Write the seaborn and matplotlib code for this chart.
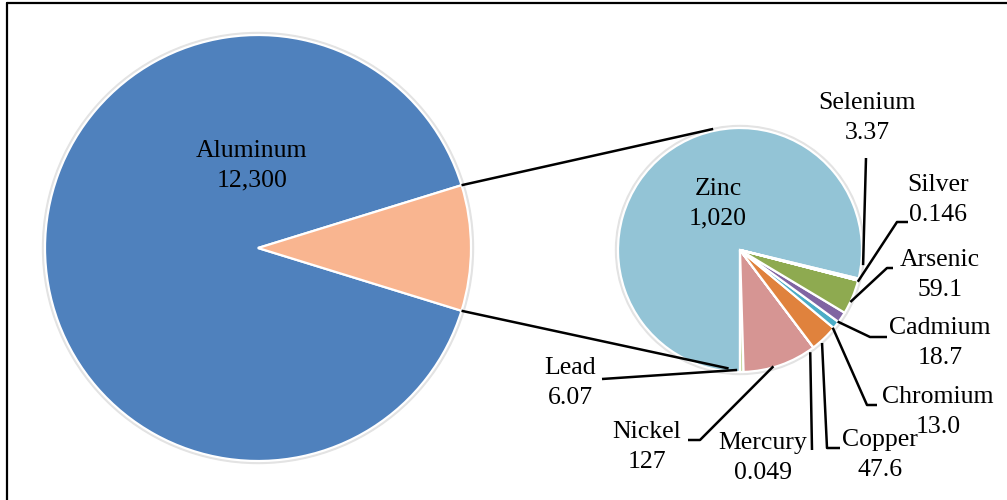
import numpy as np
import matplotlib
matplotlib.use("Agg")
import matplotlib.pyplot as plt
import seaborn as sns

# ---------------- data ----------------
main_labels = ["Aluminum", "Other"]
main_display = ["12,300", ""]
main_colors = ["#4F81BD", "#F9B590"]

sub_labels = ["Zinc", "Lead", "Nickel", "Mercury", "Copper",
              "Chromium", "Cadmium", "Arsenic", "Silver", "Selenium"]
sub_values = [1020, 6.07, 127, 0.049, 47.6, 13.0, 18.7, 59.1, 0.146, 3.37]
sub_display = ["1,020", "6.07", "127", "0.049", "47.6",
               "13.0", "18.7", "59.1", "0.146", "3.37"]
sub_colors = ["#93C4D6", "#C4D79B", "#D69593", "#4F81BD", "#E0823D",
              "#4BACC6", "#8064A2", "#8EAA50", "#C0504D", "#1F497D"]
aluminum_value = 12300
main_values = [aluminum_value, sum(sub_values)]

# ---------------- style ----------------
sns.set_theme(style="white")
plt.rcParams["font.family"] = ["Liberation Serif", "DejaVu Serif"]
plt.rcParams["text.color"] = "black"

W, H = 1007, 500
fig = plt.figure(figsize=(W / 100, H / 100), dpi=100)
ax = fig.add_axes([0, 0, 1, 1])
ax.set_xlim(0, W)
ax.set_ylim(0, H)
ax.set_aspect("equal")
ax.axis("off")

FS = 18.5
LS = 1.42

def P(x, y):
    """pixel (y down) -> axes data (y up)"""
    return x, H - y

# ---------------- left pie ----------------
c1 = P(258, 248)
r1 = 213
other_angle = 360 * main_values[1] / sum(main_values)
start1 = other_angle / 2
ax.add_patch(plt.Circle(c1, r1 + 2.5, color="#e3e3e3", zorder=0.5))
w1, _ = ax.pie(main_values, colors=main_colors, startangle=start1,
               counterclock=True, center=c1, radius=r1,
               wedgeprops=dict(edgecolor="white", linewidth=1.6), frame=True)
for w in w1:
    w.set_zorder(1)

# ---------------- right pie ----------------
c2 = P(740, 250)
r2 = 122
zinc_angle = 360 * sub_values[0] / sum(sub_values)
start2 = -90 - zinc_angle
ax.add_patch(plt.Circle(c2, r2 + 2.5, color="#e3e3e3", zorder=0.5))
w2, _ = ax.pie(sub_values, colors=sub_colors, startangle=start2,
               counterclock=True, center=c2, radius=r2,
               wedgeprops=dict(edgecolor="white", linewidth=1.6), frame=True)
for w in w2:
    w.set_zorder(1)

ax.set_xlim(0, W)
ax.set_ylim(0, H)
ax.axis("off")

def polar(c, r, ang):
    a = np.deg2rad(ang)
    return c[0] + r * np.cos(a), c[1] + r * np.sin(a)

# ---------------- connectors ----------------
top_l = polar(c1, r1, start1)
bot_l = polar(c1, r1, -start1)
top_r = polar(c2, r2 + 2, 102.5)
bot_r = polar(c2, r2 - 3, -95.5)
for a, b in [(top_l, top_r), (bot_l, bot_r)]:
    ax.plot([a[0], b[0]], [a[1], b[1]], color="black", lw=1.8, zorder=3,
            solid_capstyle="butt")

# ---------------- labels ----------------
ax.text(*P(252, 166), f"{main_labels[0]}\n{main_display[0]}", ha="center",
        va="center", fontsize=FS, linespacing=LS, zorder=5, color="black")
ax.text(*P(718, 204), f"{sub_labels[0]}\n{sub_display[0]}", ha="center",
        va="center", fontsize=FS, linespacing=LS, zorder=5, color="black")

# text centre, leader path (pixel), angular nudge, radius of leader end
outside = {
    "Selenium": ((867, 118), [(866, 158)], 7.0, 124),
    "Silver":   ((938, 200), [(908, 222), (897, 222)], -0.6, 122),
    "Arsenic":  ((940, 275), [(893, 268), (887, 268)], -2.5, 122),
    "Cadmium":  ((940, 343), [(887, 337), (870, 337)], -2.7, 121),
    "Chromium": ((938, 412), [(877, 405), (867, 405)], -2.0, 121),
    "Copper":   ((880, 455), [(840, 448), (827, 448)], -2.2, 124),
    "Mercury":  ((763, 458), [(812, 450)], -2.5, 124),
    "Nickel":   ((647, 447), [(688, 440), (700, 440)], -3.3, 121),
    "Lead":     ((570, 383), [(602, 379)], -2.2, 120),
}

cum = start2
mids = []
for v in sub_values:
    span = 360 * v / sum(sub_values)
    mids.append(cum + span / 2)
    cum += span

for i, name in enumerate(sub_labels):
    if name not in outside:
        continue
    (tx, ty), path, nudge, rr = outside[name]
    ax.text(*P(tx, ty), f"{name}\n{sub_display[i]}", ha="center",
            va="center", fontsize=FS, linespacing=LS, zorder=5, color="black")
    pts = [P(x, y) for x, y in path]
    pts.append(polar(c2, rr, mids[i] + nudge))
    xs, ys = zip(*pts)
    ax.plot(xs, ys, color="black", lw=1.8, zorder=4, solid_capstyle="butt")

# ---------------- frame (top & left only) ----------------
ax.plot([7, W], [H - 3, H - 3], color="black", lw=1.6, clip_on=False, zorder=6)
ax.plot([7, 7], [0, H - 3], color="black", lw=1.6, clip_on=False, zorder=6)

fig.savefig("out.png", dpi=100, facecolor="white")
